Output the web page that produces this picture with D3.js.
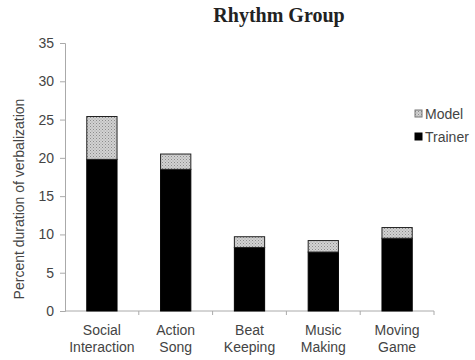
<!DOCTYPE html>
<html>
<head>
<meta charset="utf-8">
<script src="https://cdn.jsdelivr.net/npm/d3@7"></script>
<style>
  body { margin: 0; background: #fff; }
  svg text { font-family: "Liberation Sans", Arial, sans-serif; fill: #333; }
</style>
</head>
<body>
<div id="chart"></div>
<script>
const categories = [
  ["Social", "Interaction"],
  ["Action", "Song"],
  ["Beat", "Keeping"],
  ["Music", "Making"],
  ["Moving", "Game"],
];
const trainerValues = [19.8, 18.5, 8.3, 7.7, 9.5];
const totalValues = [25.4, 20.5, 9.7, 9.2, 10.9];
const yTicks = [0, 5, 10, 15, 20, 25, 30, 35];
const seriesNames = ["Model", "Trainer"];

const width = 475;
const height = 360;
const margin = { top: 43, right: 41, bottom: 49, left: 65 };

const svg = d3
  .select("#chart")
  .append("svg")
  .attr("width", width)
  .attr("height", height);

// dotted grey fill for the Model part
const defs = svg.append("defs");
const pattern = defs
  .append("pattern")
  .attr("id", "dots")
  .attr("patternUnits", "userSpaceOnUse")
  .attr("width", 3)
  .attr("height", 3);
pattern.append("rect").attr("width", 3).attr("height", 3).attr("fill", "#d2d2d2");
pattern.append("rect").attr("width", 1).attr("height", 1).attr("fill", "#8c8c8c");
pattern.append("rect").attr("x", 1.5).attr("y", 1.5).attr("width", 1).attr("height", 1).attr("fill", "#a0a0a0");

const keys = categories.map((d) => d.join(" "));

const xScale = d3
  .scaleBand()
  .domain(keys)
  .range([margin.left, width - margin.right])
  .paddingInner(0.59)
  .paddingOuter(0.295);

const yScale = d3
  .scaleLinear()
  .domain([0, 35])
  .range([height - margin.bottom, margin.top]);

// title
svg
  .append("text")
  .attr("x", 279)
  .attr("y", 22)
  .attr("text-anchor", "middle")
  .style("font-family", "'Liberation Serif', 'Times New Roman', serif")
  .style("font-weight", "bold")
  .style("font-size", "20px")
  .style("fill", "#222")
  .text("Rhythm Group");

// y axis
const yAxis = svg
  .append("g")
  .attr("transform", `translate(${margin.left}, 0)`)
  .call(d3.axisLeft(yScale).tickValues(yTicks).tickSize(5).tickPadding(6));
yAxis.select(".domain").attr("stroke", "#aaa");
yAxis.selectAll(".tick line").attr("stroke", "#aaa");
yAxis.selectAll(".tick text").style("font-size", "14px").style("fill", "#444");

// x axis: ticks sit between the categories
const x0 = margin.left;
const x1 = width - margin.right;
const xAxis = svg.append("g");
xAxis
  .append("line")
  .attr("x1", x0)
  .attr("x2", x1)
  .attr("y1", yScale(0))
  .attr("y2", yScale(0))
  .attr("stroke", "#aaa");
xAxis
  .selectAll(".sep")
  .data(d3.range(1, keys.length + 1))
  .join("line")
  .attr("class", "sep")
  .attr("x1", (i) => x0 + i * (x1 - x0) / keys.length)
  .attr("x2", (i) => x0 + i * (x1 - x0) / keys.length)
  .attr("y1", yScale(0))
  .attr("y2", yScale(0) + 4)
  .attr("stroke", "#aaa");

const labels = xAxis
  .selectAll(".cat")
  .data(categories)
  .join("text")
  .attr("class", "cat")
  .attr("text-anchor", "middle")
  .style("font-size", "14px")
  .style("fill", "#444");
labels
  .selectAll("tspan")
  .data((d, i) => d.map((t) => ({ t, i })))
  .join("tspan")
  .attr("x", (d) => xScale(keys[d.i]) + xScale.bandwidth() / 2)
  .attr("y", (d, j) => yScale(0) + 24 + j * 17)
  .text((d) => d.t);

// bars
const bars = svg.append("g");
bars
  .selectAll(".trainer")
  .data(trainerValues)
  .join("rect")
  .attr("class", "trainer")
  .attr("x", (d, i) => xScale(keys[i]))
  .attr("width", xScale.bandwidth())
  .attr("y", (d) => yScale(d))
  .attr("height", (d) => yScale(0) - yScale(d))
  .attr("fill", "#000")
  .attr("stroke", "#000");

bars
  .selectAll(".model")
  .data(totalValues)
  .join("rect")
  .attr("class", "model")
  .attr("x", (d, i) => xScale(keys[i]))
  .attr("width", xScale.bandwidth())
  .attr("y", (d) => yScale(d))
  .attr("height", (d, i) => yScale(trainerValues[i]) - yScale(d))
  .attr("fill", "url(#dots)")
  .attr("stroke", "#222")
  .attr("stroke-width", 1);

// y axis title
svg
  .append("text")
  .attr("transform", "rotate(-90)")
  .attr("x", -199)
  .attr("y", 24)
  .attr("text-anchor", "middle")
  .style("font-size", "14px")
  .style("fill", "#444")
  .text("Percent duration of verbalization");

// legend
const legend = svg.append("g").attr("transform", "translate(415, 114)");
const legendItems = legend
  .selectAll("g")
  .data(seriesNames)
  .join("g")
  .attr("transform", (d, i) => `translate(0, ${i * 23})`);
legendItems
  .append("rect")
  .attr("x", 0)
  .attr("y", -4)
  .attr("width", 7)
  .attr("height", 7)
  .attr("fill", (d) => (d === "Model" ? "url(#dots)" : "#000"))
  .attr("stroke", (d) => (d === "Model" ? "#777" : "#000"));
legendItems
  .append("text")
  .attr("x", 10)
  .attr("y", 0)
  .attr("dy", "0.35em")
  .style("font-size", "14px")
  .style("fill", "#444")
  .text((d) => d);
</script>
</body>
</html>
